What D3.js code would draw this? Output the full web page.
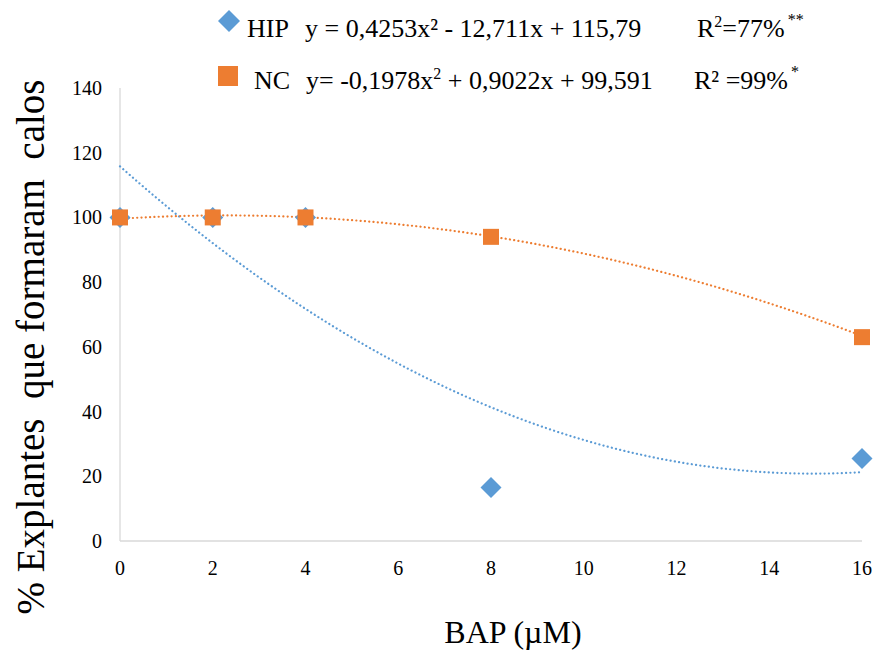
<!DOCTYPE html>
<html><head><meta charset="utf-8">
<script src="https://cdn.jsdelivr.net/npm/d3@7"></script>
<style>body{margin:0;background:#fff}svg{display:block}</style>
</head><body>
<svg id="c" width="875" height="654"></svg>
<script>
const bapLevels = [0, 2, 4, 8, 16];
const hipValues = [100, 100, 100, 16.5, 25.5];
const ncValues = [100, 100, 100, 94, 63];
const hipCoef = [0.4253, -12.711, 115.79];
const ncCoef = [-0.1978, 0.9022, 99.591];
const xTicks = [0, 2, 4, 6, 8, 10, 12, 14, 16];
const yTicks = [0, 20, 40, 60, 80, 100, 120, 140];
const blue = "#5B9BD5", orange = "#ED7D31";
const FONT = '"Liberation Serif"';

const svg = d3.select("#c");
const x = d3.scaleLinear().domain([0, 16]).range([120, 862]);
const y = d3.scaleLinear().domain([0, 140]).range([541, 88]);

function txt(sel) { return sel.append("text").attr("font-family", "Liberation Serif").style("font-family", FONT).attr("fill", "#000"); }

svg.append("line").attr("x1", x(0)).attr("x2", x(0)).attr("y1", y(140)).attr("y2", y(0)).attr("stroke", "#d9d9d9").attr("stroke-width", 1.3);
svg.append("line").attr("x1", x(0)).attr("x2", x(16)).attr("y1", y(0)).attr("y2", y(0)).attr("stroke", "#d9d9d9").attr("stroke-width", 1.3);

yTicks.forEach(d => txt(svg).attr("x", 102).attr("y", y(d) + 7).attr("text-anchor", "end")
  .attr("font-size", 20).text(d));
xTicks.forEach(d => txt(svg).attr("x", x(d)).attr("y", 575).attr("text-anchor", "middle")
  .attr("font-size", 20).text(d));

txt(svg).attr("transform", "translate(44,347) rotate(-90)")
  .attr("text-anchor", "middle").attr("font-size", 39).attr("xml:space", "preserve")
  .text("% Explantes  que formaram  calos");
txt(svg).attr("x", 513).attr("y", 643).attr("text-anchor", "middle")
  .attr("font-size", 32).text("BAP (µM)");

const quad = (c, v) => c[0] * v * v + c[1] * v + c[2];
const xs = d3.range(0, 16.001, 0.1);
const line = d3.line().x(d => x(d[0])).y(d => y(d[1]));
[[hipCoef, blue], [ncCoef, orange]].forEach(([c, col]) => {
  svg.append("path").attr("d", line(xs.map(v => [v, quad(c, v)])))
    .attr("fill", "none").attr("stroke", col).attr("stroke-width", 2.2)
    .attr("stroke-dasharray", "0.1,4.2").attr("stroke-linecap", "round");
});

function diamondPath(s){ return `M0,${-s}L${s},0L0,${s}L${-s},0Z`; }
svg.selectAll(".hip").data(bapLevels).enter().append("path")
  .attr("d", diamondPath(10.5))
  .attr("transform", (d, i) => `translate(${x(d)},${y(hipValues[i])})`)
  .attr("fill", blue);
svg.selectAll(".nc").data(bapLevels).enter().append("rect")
  .attr("x", d => x(d) - 8).attr("y", (d, i) => y(ncValues[i]) - 8)
  .attr("width", 16).attr("height", 16).attr("fill", orange);

svg.append("path").attr("d", diamondPath(11)).attr("transform", "translate(229,21)").attr("fill", blue);
svg.append("rect").attr("x", 218).attr("y", 66).attr("width", 20).attr("height", 20).attr("fill", orange);

const fs = 26, ss = 16;
txt(svg).attr("x", 247).attr("y", 37).attr("font-size", fs).text("HIP");
txt(svg).attr("x", 305).attr("y", 37).attr("font-size", fs).text("y = 0,4253x² - 12,711x + 115,79");
const r1 = txt(svg).attr("x", 697).attr("y", 37).attr("font-size", fs);
r1.append("tspan").text("R");
r1.append("tspan").attr("font-size", ss).attr("dy", -10).text("2");
r1.append("tspan").attr("dy", 10).text("=77%");
r1.append("tspan").attr("font-size", ss).attr("dy", -12).attr("dx", 3).text("**");

txt(svg).attr("x", 254).attr("y", 89).attr("font-size", fs).text("NC");
const e2 = txt(svg).attr("x", 306).attr("y", 89).attr("font-size", fs);
e2.append("tspan").text("y= -0,1978x");
e2.append("tspan").attr("font-size", ss).attr("dy", -10).text("2");
e2.append("tspan").attr("dy", 10).text(" + 0,9022x + 99,591");
const r2 = txt(svg).attr("x", 694).attr("y", 89).attr("font-size", fs);
r2.append("tspan").text("R² =99%");
r2.append("tspan").attr("font-size", ss).attr("dy", -12).attr("dx", 3).text("*");

function refresh() {
  svg.selectAll("text").each(function(){
    const s = this.getAttribute("font-size");
    this.setAttribute("font-size", (+s + 0.001));
    this.setAttribute("font-size", s);
    this.getBBox();
  });
}
refresh();
if (document.fonts) {
  document.fonts.load('20px "Liberation Serif"').then(refresh);
  document.fonts.ready.then(refresh);
}
setTimeout(refresh, 50);
</script>
</body></html>
